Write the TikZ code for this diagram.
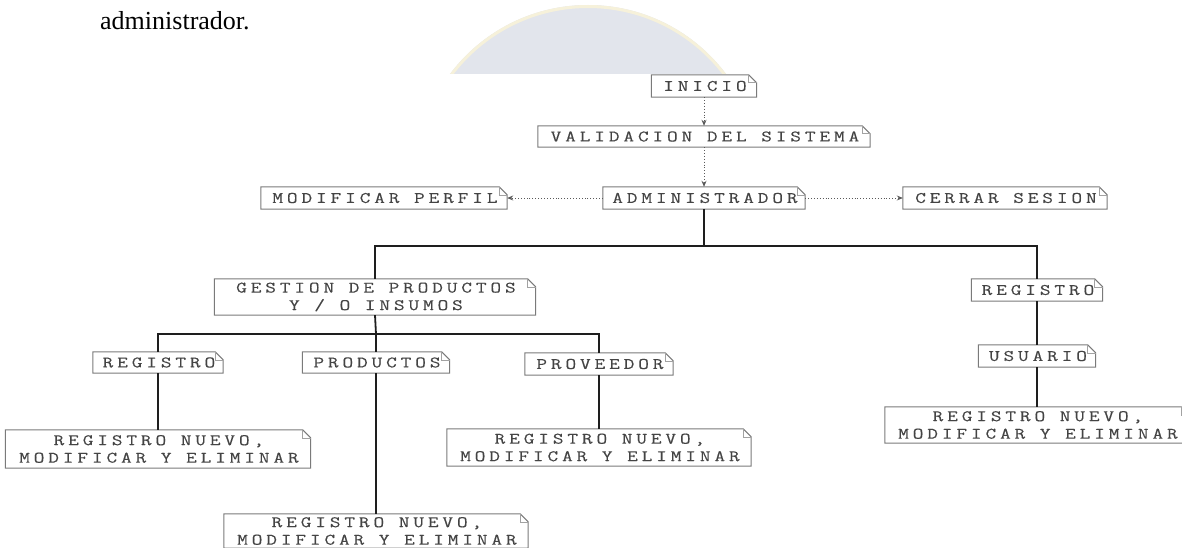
\documentclass[tikz,border=0pt]{standalone}
\usepackage{fontspec}
\newfontfamily\boxfont[LetterSpace=24,FakeStretch=1.3,FakeBold=0.3]{Latin Modern Mono}
\newfontfamily\titlefont{Liberation Serif}
\usetikzlibrary{arrows.meta}
\definecolor{txt}{HTML}{444444}
\definecolor{edgec}{HTML}{7A7A7A}
\definecolor{treec}{HTML}{1E1E1E}
\definecolor{dotc}{HTML}{5A5A5A}
\definecolor{wm}{HTML}{E2E5EC}
\definecolor{wmrim}{HTML}{F6F1DA}
\newcommand{\ls}{\kern1.9pt}
\tikzset{
  box/.style={inner sep=0pt, font=\boxfont\fontsize{16}{17.5}\selectfont, text=txt, align=center},
  boxline/.style={draw=edgec, line width=1pt, line join=miter},
  foldline/.style={draw=edgec!70, line width=0.6pt},
  treeline/.style={draw=treec, line width=1.8pt},
  dotarrow/.style={draw=dotc, dotted, line width=0.9pt, -{Stealth[length=6pt,width=5pt]}},
}
\begin{document}
\begin{tikzpicture}[x=1pt,y=-1pt]
\useasboundingbox (0,0) rectangle (1182,548);
% watermark
\begin{scope}
  \clip (0,0) rectangle (1182,74);
  \fill[wm] (588,177.5) circle (172.5pt);
  \draw[wmrim, line width=3pt] (588,177.5) circle (171pt);
\end{scope}
% title
\node[anchor=base west, inner sep=0pt, font=\titlefont\fontsize{26}{30}\selectfont] (title) at (100,30) {administrador.};
% nodes
\node[box, minimum width=105pt, minimum height=22pt] (inicio) at (704,86) {\ls INICIO};
\node[box, minimum width=332pt, minimum height=21pt] (valid) at (704,136.5) {\ls VALIDACION DEL SISTEMA};
\node[box, minimum width=202pt, minimum height=22pt] (admin) at (704,198) {\ls ADMINISTRADOR};
\node[box, minimum width=246pt, minimum height=22pt] (modif) at (384,198) {\ls MODIFICAR PERFIL};
\node[box, minimum width=204pt, minimum height=22pt] (cerrar) at (1005,198) {\ls CERRAR SESION};
\node[box, minimum width=321pt, minimum height=36pt] (gestion) at (375,297) {\ls GESTION DE PRODUCTOS\\\ls Y / O INSUMOS};
\node[box, minimum width=130pt, minimum height=21pt] (reg1) at (158,362.5) {\ls REGISTRO};
\node[box, minimum width=147pt, minimum height=21pt] (prod) at (376,362.5) {\ls PRODUCTOS};
\node[box, minimum width=148pt, minimum height=22pt] (prov) at (599,364) {\ls PROVEEDOR};
\node[box, minimum width=305pt, minimum height=38pt] (rnm1) at (158,449) {\ls REGISTRO NUEVO,\\\ls MODIFICAR Y ELIMINAR};
\node[box, minimum width=304pt, minimum height=34pt] (rnm2) at (376,531) {\ls REGISTRO NUEVO,\\\ls MODIFICAR Y ELIMINAR};
\node[box, minimum width=304pt, minimum height=37pt] (rnm3) at (599,447.5) {\ls REGISTRO NUEVO,\\\ls MODIFICAR Y ELIMINAR};
\node[box, minimum width=131pt, minimum height=22pt] (reg2) at (1037,290) {\ls REGISTRO};
\node[box, minimum width=117pt, minimum height=22pt] (usuario) at (1037,356) {\ls USUARIO};
\node[box, minimum width=304pt, minimum height=36pt] (rnm4) at (1037,425) {\ls REGISTRO NUEVO,\\\ls MODIFICAR Y ELIMINAR};
% note outlines
\foreach \n in {inicio,valid,admin,modif,cerrar,gestion,reg1,prod,prov,rnm1,rnm2,rnm3,reg2,usuario,rnm4}{
  \draw[boxline] (\n.south west) -- (\n.north west) -- ([xshift=-8pt]\n.north east) -- ([yshift=-8pt]\n.north east) -- (\n.south east) -- cycle;
  \draw[foldline] ([xshift=-8pt]\n.north east) -- ([xshift=-8pt,yshift=-8pt]\n.north east) -- ([yshift=-8pt]\n.north east);
}
% dotted arrows
\draw[dotarrow] (inicio.south) -- (valid.north);
\draw[dotarrow] (valid.south) -- (admin.north);
\draw[dotarrow] (admin.west) -- (modif.east);
\draw[dotarrow] (admin.east) -- (cerrar.west);
% tree
\coordinate (b1) at (704,246);
\coordinate (b2) at (376,334);
\draw[treeline] (admin.south) -- (b1);
\draw[treeline] (gestion.north) |- (b1) -| (reg2.north);
\draw[treeline] (gestion.south) -- (b2);
\draw[treeline] (reg1.north) |- (b2) -| (prov.north);
\draw[treeline] (b2) -- (prod.north);
\draw[treeline] (reg1.south) -- (rnm1.north);
\draw[treeline] (prod.south) -- (rnm2.north);
\draw[treeline] (prov.south) -- (rnm3.north);
\draw[treeline] (reg2.south) -- (usuario.north);
\draw[treeline] (usuario.south) -- (rnm4.north);
\end{tikzpicture}
\end{document}
